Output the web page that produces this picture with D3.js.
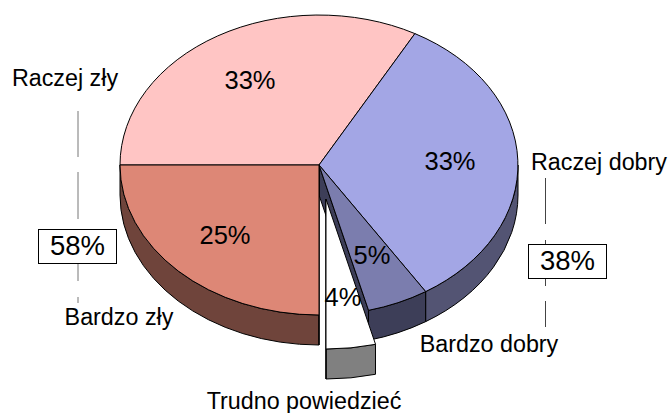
<!DOCTYPE html>
<html><head><meta charset="utf-8">
<script src="https://cdn.jsdelivr.net/npm/d3@7"></script>
<style>html,body{margin:0;padding:0;background:#fff}svg{display:block}text{font-family:"Liberation Sans",Arial,sans-serif;fill:#000}</style>
</head><body><svg id="c" width="672" height="413"></svg>
<script>
const categories = ["Raczej zły","Raczej dobry","Bardzo dobry","Trudno powiedzieć","Bardzo zły"];
const values = [33,33,5,4,25];
const topColors = ["#FFC5C4","#A3A6E5","#7B7DAE","#FFFFFF","#DD8776"];
const wallColors = ["#7F6262","#535473","#3D3E58","#808080","#6F443B"];
const exploded = "Trudno powiedzieć";
const groupTotals = ["58%","38%"];

const W=672,H=413,cx=319,cy=165,rx=199,ry=150,depth=30;
const offX=7,offY=34;
const svg=d3.select("#c");
const startDeg=-90;
const pie=d3.pie().sort(null).startAngle(startDeg*Math.PI/180).endAngle((startDeg+360)*Math.PI/180);
const arcs=pie(values).map((d,i)=>({...d,name:categories[i],top:topColors[i],wall:wallColors[i]}));
const arcGen=d3.arc().innerRadius(0).outerRadius(1);
const dU=depth/ry;
const NS="non-scaling-stroke";
const sty=s=>s.attr("vector-effect",NS).attr("stroke","#000").attr("stroke-width",1).attr("stroke-linejoin","round");

function wallPath(a0,a1){
  const p=d3.path(),q=Math.PI/2;
  p.moveTo(Math.cos(a0-q),Math.sin(a0-q));
  p.arc(0,0,1,a0-q,a1-q,false);
  p.lineTo(Math.cos(a1-q),Math.sin(a1-q)+dU);
  p.arc(0,dU,1,a1-q,a0-q,true);
  p.closePath();
  return p.toString();
}
function cutPath(a){
  const p=d3.path(),q=Math.PI/2,x=Math.cos(a-q),y=Math.sin(a-q);
  p.moveTo(0,0);p.lineTo(x,y);p.lineTo(x,y+dU);p.lineTo(0,dU);p.closePath();
  return p.toString();
}
const g=svg.append("g").attr("transform",`translate(${cx},${cy}) scale(${rx},${ry})`);
// only the front half of the rim (90°..270°) is visible
function drawWall(gr,d){
  const a0=Math.max(d.startAngle,Math.PI/2),a1=Math.min(d.endAngle,3*Math.PI/2);
  if(a0<a1) gr.append("path").attr("d",wallPath(a0,a1)).attr("fill",d.wall).call(sty);
}
const main=arcs.filter(d=>d.name!==exploded), ex=arcs.find(d=>d.name===exploded);
main.forEach(d=>drawWall(g,d));
// cut faces exposed by the pulled-out slice
g.append("path").attr("d",cutPath(ex.startAngle)).attr("fill",arcs[2].wall).call(sty);
g.append("path").attr("d",cutPath(ex.endAngle)).attr("fill",arcs[4].wall).call(sty);
main.forEach(d=>g.append("path").attr("d",arcGen(d)).attr("fill",d.top).call(sty));
const ge=svg.append("g").attr("transform",`translate(${cx+offX},${cy+offY}) scale(${rx},${ry})`);
drawWall(ge,ex);
ge.append("path").attr("d",cutPath(ex.endAngle)).attr("fill","#000").call(sty);
ge.append("path").attr("d",arcGen(ex)).attr("fill",ex.top).call(sty);

// percent labels
const pctPos=[[250,82],[450,163],[372,257],[343,299],[225,237]];
arcs.forEach((d,i)=>svg.append("text").attr("x",pctPos[i][0]).attr("y",pctPos[i][1]).attr("text-anchor","middle").attr("dominant-baseline","middle").attr("font-size",25.5).text(d3.format("d")(d.value)+"%"));

// category labels
const catPos=[[65,80],[599,164],[489,346],[304,403],[119,319]];
categories.forEach((t,i)=>svg.append("text").attr("x",catPos[i][0]).attr("y",catPos[i][1]).attr("text-anchor","middle").attr("dominant-baseline","middle").attr("font-size",23.3).text(t));

// leader lines
const leaders=[[78,111,157,"#777"],[78,172,219,"#777"],[78,264,281,"#777"],[78,297,303,"#777"],[545.5,178,224,"#444"],[545.5,240,245,"#444"],[545.5,278,286,"#444"],[545.5,301,327,"#444"]];
leaders.forEach(l=>svg.append("line").attr("x1",l[0]).attr("x2",l[0]).attr("y1",l[1]).attr("y2",l[2]).attr("stroke",l[3]).attr("stroke-width",1));
// boxes
const boxes=[[38.5,229.5,78,34],[528.5,244.5,78,34]];
boxes.forEach((b,i)=>{
  svg.append("rect").attr("x",b[0]).attr("y",b[1]).attr("width",b[2]).attr("height",b[3]).attr("fill","#fff").attr("stroke","#000");
  svg.append("text").attr("x",b[0]+b[2]/2).attr("y",b[1]+b[3]/2+1).attr("text-anchor","middle").attr("dominant-baseline","middle").attr("font-size",27.5).text(groupTotals[i]);
});
</script></body></html>
